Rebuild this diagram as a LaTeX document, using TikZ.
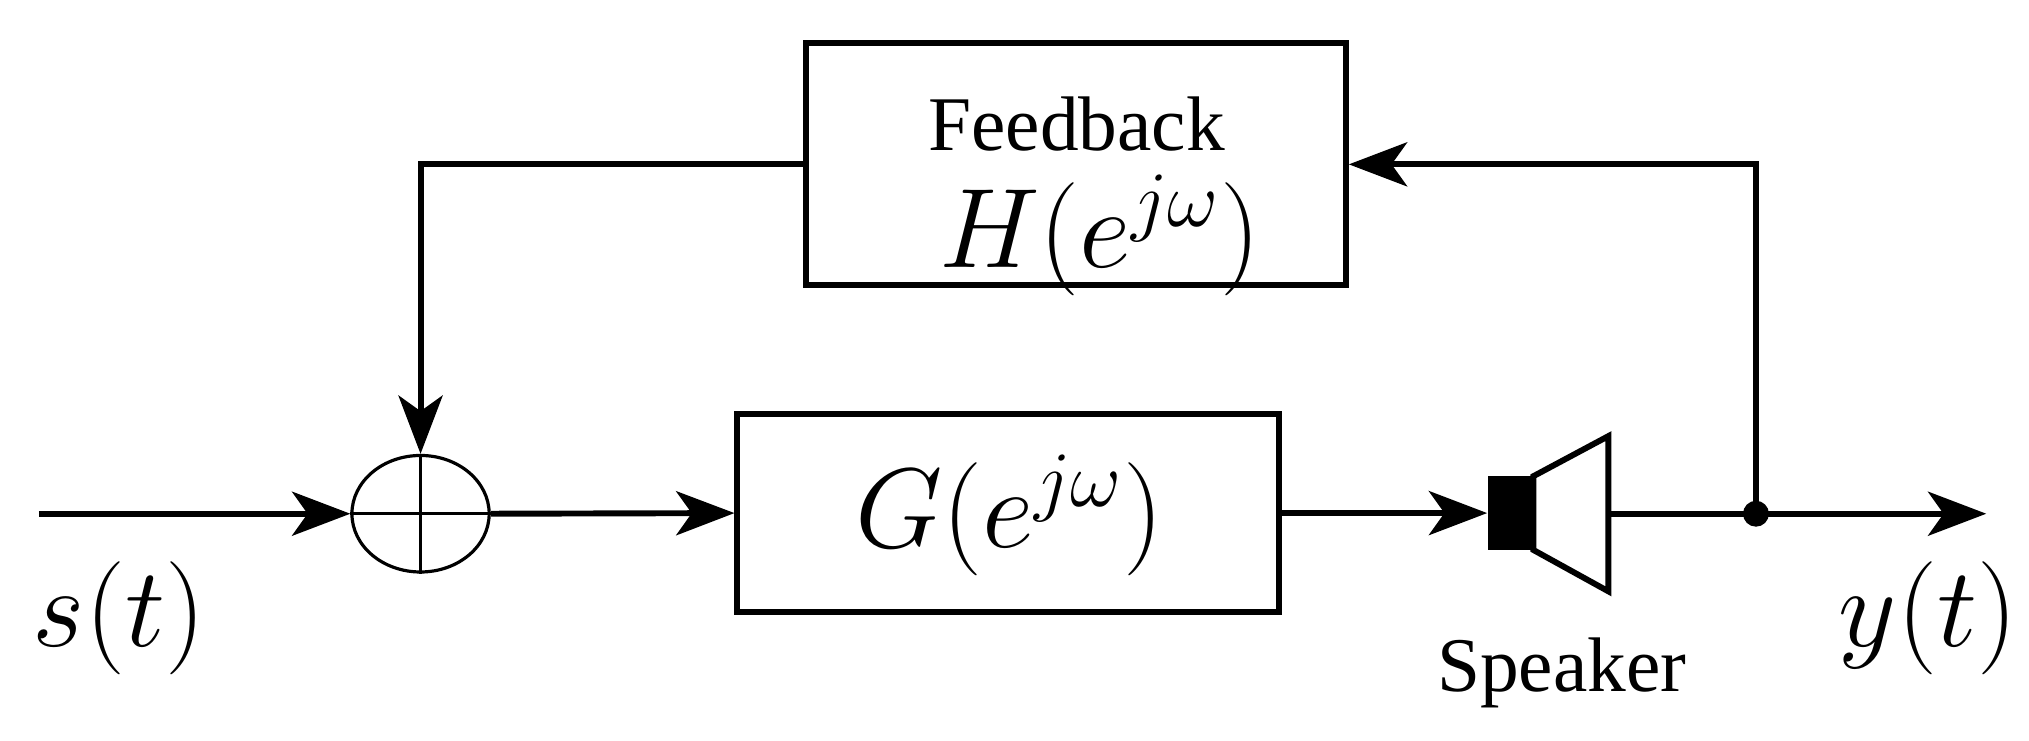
\documentclass[tikz,border=0pt]{standalone}
\usepackage{fontspec}
\setmainfont{Liberation Serif}
\usetikzlibrary{arrows.meta,shapes.geometric}
\begin{document}
\begin{tikzpicture}[x=0.01cm,y=-0.01cm,
  ln/.style={line width=1.3pt},
  arr/.style={ln,-{Stealth[length=0.45cm,width=0.34cm,inset=0.12cm]}},
  box/.style={draw,line width=1.3pt,rectangle,inner sep=0pt}]
\useasboundingbox (0,0) rectangle (1568,572);
\node[box,minimum width=4.17cm,minimum height=1.87cm] (fb) at (831.5,126.5) {};
\node[inner sep=1pt] (fbt) at (832,96) {\fontsize{17}{20}\selectfont Feedback};
\node[inner sep=1pt] (ht) at (850,182) {\fontsize{24}{28}\selectfont $H(e^{j\omega})$};
\node[box,minimum width=4.18cm,minimum height=1.53cm] (g) at (779,396.5) {};
\node (gt) at (780,398) {\fontsize{26}{30}\selectfont $G(e^{j\omega})$};
\node[draw,ellipse,line width=0.7pt,minimum width=1.06cm,minimum height=0.9cm,inner sep=0pt] (sum) at (325,397) {};
\draw[line width=0.7pt] (sum.north) -- (sum.south) (sum.west) -- (sum.east);
\coordinate (in) at (30,397);
\coordinate (fl) at (325,127);
\coordinate (jn) at (1357,397);
\coordinate (jt) at (1357,127);
\coordinate (out) at (1535,397);
\node[fill=black,minimum width=0.35cm,minimum height=0.57cm,inner sep=0pt] (sq) at (1167.5,396.5) {};
\draw[line width=1.3pt,fill=white] (1185,368) -- (1243,337) -- (1243,457) -- (1185,425) -- cycle;
\coordinate (cone) at (1243,397);
\draw[arr] (in) -- (sum.west);
\draw[arr] (fb.west |- fl) -- (fl) -- (sum.north);
\draw[arr] (sum.east) -- (g.west);
\draw[arr] (g.east |- sq.west) -- (sq.west);
\draw[arr] (cone) -- (out);
\draw[arr] (jn) -- (jt) -- (fb.east |- jt);
\fill (jn) circle (0.1cm);
\node (s) at (92,478) {\fontsize{26}{30}\selectfont $s(t)$};
\node (y) at (1490,478) {\fontsize{26}{30}\selectfont $y(t)$};
\node (sp) at (1207,520) {\fontsize{17}{20}\selectfont Speaker};
\end{tikzpicture}
\end{document}
